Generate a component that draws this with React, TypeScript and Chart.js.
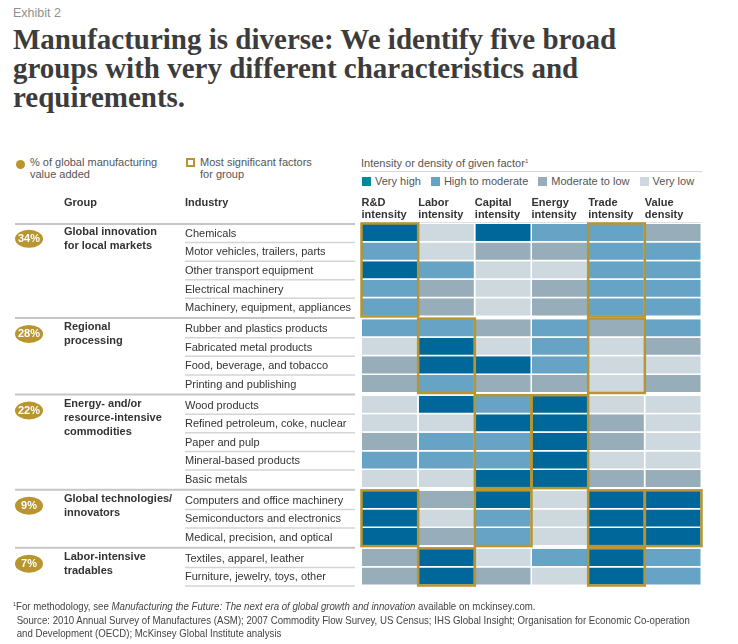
import React, { useEffect, useRef } from "react";
import { Chart, registerables } from "chart.js";

Chart.register(...registerables);

// ---------------- data ----------------
const factorHeaders = [
  ["R&D", "intensity"],
  ["Labor", "intensity"],
  ["Capital", "intensity"],
  ["Energy", "intensity"],
  ["Trade", "intensity"],
  ["Value", "density"],
];

const industries = [
  "Chemicals",
  "Motor vehicles, trailers, parts",
  "Other transport equipment",
  "Electrical machinery",
  "Machinery, equipment, appliances",
  "Rubber and plastics products",
  "Fabricated metal products",
  "Food, beverage, and tobacco",
  "Printing and publishing",
  "Wood products",
  "Refined petroleum, coke, nuclear",
  "Paper and pulp",
  "Mineral-based products",
  "Basic metals",
  "Computers and office machinery",
  "Semiconductors and electronics",
  "Medical, precision, and optical",
  "Textiles, apparel, leather",
  "Furniture, jewelry, toys, other",
];

const industryGroup = [0, 0, 0, 0, 0, 1, 1, 1, 1, 2, 2, 2, 2, 2, 3, 3, 3, 4, 4];

const groupLabelLines = [
  ["Global innovation", "for local markets"],
  ["Regional", "processing"],
  ["Energy- and/or", "resource-intensive", "commodities"],
  ["Global technologies/", "innovators"],
  ["Labor-intensive", "tradables"],
];

const groupShares = ["34%", "28%", "22%", "9%", "7%"];

// 0 = Very low, 1 = Moderate to low, 2 = High to moderate, 3 = Very high
const rdLevels = [3, 2, 3, 2, 2, 2, 0, 1, 1, 0, 0, 1, 2, 0, 3, 3, 3, 1, 1];
const laborLevels = [0, 0, 2, 1, 1, 2, 3, 3, 2, 3, 0, 2, 2, 0, 1, 0, 1, 3, 3];
const capitalLevels = [3, 1, 0, 0, 0, 1, 0, 3, 1, 2, 3, 2, 2, 3, 3, 2, 2, 0, 1];
const energyLevels = [2, 1, 0, 1, 1, 2, 2, 2, 1, 3, 3, 3, 3, 3, 0, 0, 0, 2, 0];
const tradeLevels = [2, 2, 2, 2, 2, 1, 0, 0, 0, 0, 1, 1, 0, 1, 3, 3, 3, 3, 3];
const valueLevels = [1, 2, 2, 2, 2, 2, 1, 0, 1, 0, 0, 0, 0, 1, 3, 3, 3, 2, 2];

// indexes into factorHeaders, per group
const significantFactors = [[0, 4], [1, 4], [2, 3], [0, 2, 4, 5], [1, 4]];

const levelNames = ["Very high", "High to moderate", "Moderate to low", "Very low"];

// ---------------- styles ----------------
const cellColors = ["#cdd8df", "#97adb9", "#66a3c5", "#00679b"];
const legendColors = ["#00899a", "#66a3c5", "#97adb9", "#cdd8df"];
const GOLD = "#b8952e";
const SANS = "'Liberation Sans', Arial, Helvetica, sans-serif";
const GROUP_GAP = 0.12;

export default function App() {
  const ref = useRef<HTMLCanvasElement | null>(null);

  useEffect(() => {
    const canvas = ref.current;
    if (!canvas) return;
    const levels = [rdLevels, laborLevels, capitalLevels, energyLevels, tradeLevels, valueLevels];
    const rowPos = industries.map((_, i) => i + industryGroup[i] * GROUP_GAP);
    const lastPos = rowPos[rowPos.length - 1];

    const decor = {
      id: "tableDecor",
      afterDatasetsDraw(chart: any) {
        const ctx = chart.ctx as CanvasRenderingContext2D;
        const xs = chart.scales.x;
        const ys = chart.scales.y;
        const half = (ys.getPixelForValue(1) - ys.getPixelForValue(0)) / 2;
        const center = (i: number) => ys.getPixelForValue(rowPos[i]);
        const top = (i: number) => center(i) - half;
        const bottom = (i: number) => center(i) + half;
        ctx.save();

        // header texts
        ctx.fillStyle = "#333";
        ctx.font = `bold 11px ${SANS}`;
        ctx.textBaseline = "middle";
        ctx.textAlign = "left";
        ctx.fillText("Group", 64, 203);
        ctx.fillText("Industry", 185, 203);
        factorHeaders.forEach((h, c) => {
          const x = xs.getPixelForValue(c) - 0.5;
          ctx.fillText(h[0], x, 203);
          ctx.fillText(h[1], x, 215);
        });

        // top line over grid
        ctx.strokeStyle = "#e2e2e2";
        ctx.lineWidth = 1;
        ctx.beginPath();
        ctx.moveTo(xs.left, chart.chartArea.top - 1.5);
        ctx.lineTo(xs.right, chart.chartArea.top - 1.5);
        ctx.stroke();

        // separators on the left
        const groupsCount = groupLabelLines.length;
        for (let g = 0; g < groupsCount; g++) {
          const first = industryGroup.indexOf(g);
          const y = g === 0 ? top(first) : (bottom(first - 1) + top(first)) / 2;
          ctx.strokeStyle = "#c6c6c6";
          ctx.lineWidth = 2;
          ctx.beginPath();
          ctx.moveTo(15, y);
          ctx.lineTo(355, y);
          ctx.stroke();
        }
        industries.forEach((_, i) => {
          const isLast = i === industries.length - 1;
          if (!isLast && industryGroup[i + 1] !== industryGroup[i]) return;
          const y = bottom(i);
          ctx.strokeStyle = "#d4d4d4";
          ctx.lineWidth = 1.5;
          ctx.beginPath();
          ctx.moveTo(185, y);
          ctx.lineTo(355, y);
          ctx.stroke();
        });

        // industry labels
        ctx.fillStyle = "#333";
        ctx.font = `11px ${SANS}`;
        industries.forEach((name, i) => {
          ctx.fillText(name, 185, center(i) + 0.5);
        });

        // group labels + share bubbles
        for (let g = 0; g < groupsCount; g++) {
          const first = industryGroup.indexOf(g);
          const cy = center(first);
          ctx.fillStyle = "#333";
          ctx.font = `bold 11px ${SANS}`;
          ctx.textAlign = "left";
          groupLabelLines[g].forEach((line, k) => ctx.fillText(line, 64, cy - 1 + k * 14));
          ctx.fillStyle = GOLD;
          ctx.beginPath();
          ctx.ellipse(29, cy + 5.5, 14, 9, 0, 0, Math.PI * 2);
          ctx.fill();
          ctx.fillStyle = "#fff";
          ctx.font = `bold 11px ${SANS}`;
          ctx.textAlign = "center";
          ctx.fillText(groupShares[g], 29, cy + 6);
        }

        // gold boxes for most significant factors
        ctx.strokeStyle = GOLD;
        ctx.lineWidth = 2.5;
        significantFactors.forEach((cols, g) => {
          const idx = industryGroup
            .map((gg, i) => (gg === g ? i : -1))
            .filter((i) => i >= 0);
          const y0 = top(idx[0]) - 0.5;
          const y1 = bottom(idx[idx.length - 1]) - 0.5;
          cols.forEach((c) => {
            const x0 = xs.getPixelForValue(c) - 0.5;
            const x1 = xs.getPixelForValue(c + 1) - 0.5;
            ctx.strokeRect(x0, y0, x1 - x0, y1 - y0);
          });
        });
        ctx.restore();
      },
    };

    const chart = new Chart(canvas, {
      type: "bar",
      data: {
        datasets: factorHeaders.map((h, c) => ({
          label: h.join(" "),
          data: industries.map((_, i) => ({ x: [c, c + 1], y: rowPos[i] })),
          backgroundColor: levels[c].map((l) => cellColors[l]),
          borderColor: "#ffffff",
          borderWidth: { top: 0, left: 0, right: 1.5, bottom: 1.5 },
          borderSkipped: false,
          inflateAmount: 0,
          barPercentage: 1,
          categoryPercentage: 1,
          grouped: false,
        })) as any,
      },
      options: {
        indexAxis: "y",
        animation: false,
        responsive: false,
        devicePixelRatio: 1,
        layout: { padding: { left: 362, top: 224, right: 36, bottom: 58 } },
        scales: {
          x: { type: "linear", min: 0, max: 6, display: false },
          y: {
            type: "linear",
            min: -0.5,
            max: lastPos + 0.5,
            reverse: true,
            display: false,
            afterBuildTicks: (s: any) => {
              s.ticks = [];
            },
          },
        },
        plugins: {
          legend: { display: false },
          tooltip: { enabled: false },
        },
      } as any,
      plugins: [decor],
    });
    return () => chart.destroy();
  }, []);

  const swatchStyle = (color: string): React.CSSProperties => ({
    display: "inline-block",
    width: 9,
    height: 9,
    background: color,
    marginRight: 4,
    verticalAlign: "-1px",
  });

  return (
    <div style={{ position: "absolute", left: 0, top: 0, width: 738, height: 644, background: "#fff", overflow: "hidden" }}>
      <div style={{ position: "absolute", left: 13, top: 6, font: `12.5px ${SANS}`, color: "#8f8f8f" }}>Exhibit 2</div>
      <div
        style={{
          position: "absolute",
          left: 13,
          top: 25,
          font: "bold 29px 'Liberation Serif', 'DejaVu Serif', serif",
          lineHeight: "29px",
          color: "#3c3c3c",
          whiteSpace: "nowrap",
        }}
      >
        <div>Manufacturing is diverse: We identify five broad</div>
        <div>groups with very different characteristics and</div>
        <div>requirements.</div>
      </div>

      {/* legend: share */}
      <div style={{ position: "absolute", left: 16, top: 160, width: 9, height: 9, borderRadius: "50%", background: GOLD }} />
      <div style={{ position: "absolute", left: 30, top: 156, font: `11px ${SANS}`, lineHeight: "12px", color: "#555" }}>
        % of global manufacturing
        <br />
        value added
      </div>
      {/* legend: significant */}
      <div style={{ position: "absolute", left: 186, top: 158, width: 9, height: 9, border: `2px solid ${GOLD}`, boxSizing: "border-box" }} />
      <div style={{ position: "absolute", left: 200, top: 156, font: `11px ${SANS}`, lineHeight: "12px", color: "#555" }}>
        Most significant factors
        <br />
        for group
      </div>
      {/* legend: levels */}
      <div style={{ position: "absolute", left: 361, top: 156, font: `11px ${SANS}`, color: "#555", lineHeight: "14px", whiteSpace: "nowrap" }}>
        Intensity or density of given factor
        <span style={{ fontSize: 6, position: "relative", top: -4 }}>1</span>
      </div>
      <div style={{ position: "absolute", left: 361, top: 171, width: 341, height: 1, background: "#d6d6d6" }} />
      <div style={{ position: "absolute", left: 362, top: 174, font: `11px ${SANS}`, color: "#555", lineHeight: "14px", whiteSpace: "nowrap" }}>
        {levelNames.map((n, k) => (
          <span key={n} style={{ marginRight: 10 }}>
            <span style={swatchStyle(legendColors[k])} />
            {n}
          </span>
        ))}
      </div>

      <canvas ref={ref} width={738} height={644} style={{ position: "absolute", left: 0, top: 0 }} />

      {/* footnotes */}
      <div
        style={{
          position: "absolute",
          left: 13,
          top: 600,
          font: `10.5px ${SANS}`,
          color: "#444",
          lineHeight: "12.3px",
          whiteSpace: "nowrap",
          transform: "scaleX(0.92)",
          transformOrigin: "0 0",
        }}
      >
        <div>
          <span style={{ fontSize: 6, position: "relative", top: -4 }}>1</span>For methodology, see{" "}
          <i>Manufacturing the Future: The next era of global growth and innovation</i> available on mckinsey.com.
        </div>
        <div style={{ paddingLeft: 4 }}>
          Source: 2010 Annual Survey of Manufactures (ASM); 2007 Commodity Flow Survey, US Census; IHS Global Insight; Organisation for Economic Co-operation
          <br />
          and Development (OECD); McKinsey Global Institute analysis
        </div>
      </div>
    </div>
  );
}
